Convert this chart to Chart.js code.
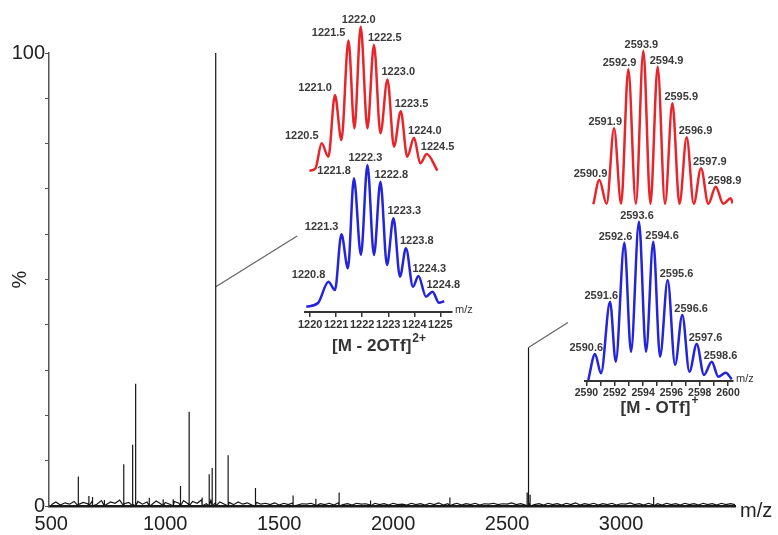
<!DOCTYPE html>
<html>
<head>
<meta charset="utf-8">
<script src="https://cdn.jsdelivr.net/npm/chart.js@4.4.0/dist/chart.umd.min.js"></script>
<style>
    body { margin: 0; background: #fff; }
    #wrap { position: relative; width: 778px; height: 535px; }
    #wrap canvas { position: absolute; top: 0; }
</style>
</head>
<body>
<div id="wrap">
    <canvas id="mainChart" width="778" height="535" style="left:0"></canvas>
    <canvas id="inset1" width="200" height="360" style="left:280px"></canvas>
    <canvas id="inset2" width="218" height="420" style="left:560px"></canvas>
</div>
<script>
// full spectrum: stick peaks (m/z, %)
var peakMz  = [618, 665, 681, 733, 818, 857, 869, 871, 930, 991, 1035, 1067, 1105, 1162, 1193, 1206, 1221, 1222, 1276, 1396, 1561, 1661, 1763, 1901, 2249, 2588, 2594, 2601, 3143];
var peakPct = [6.5, 2.2, 2.0, 1.3, 9.2, 13.5, 22, 27, 1.8, 1.5, 1.5, 4.4, 20.8, 1.9, 7.0, 8.4, 85, 100, 11.2, 4.0, 2.3, 1.6, 3.0, 1.2, 1.9, 3.0, 35, 2.5, 2.0];
// baseline noise, one value every 20 m/z from 500 to 3500
var noiseStart = 500, noiseStep = 20;
var noisePct = [
    0.3, 0.9, 0.2, 0.7, 0.4, 1.0, 0.3, 0.8, 0.5, 1.1,
    0.4, 1.2, 0.3, 0.9, 0.6, 1.3, 0.5, 0.8, 0.3, 1.0,
    0.4, 0.9, 0.3, 1.1, 0.5, 0.8, 0.4, 1.0, 0.6, 1.2,
    0.5, 1.0, 0.6, 1.4, 0.5, 1.2, 0.7, 0.9, 0.4, 0.8,
    0.3, 0.9, 0.4, 0.7, 0.2, 0.8, 0.4, 0.6, 0.3, 0.7,
    0.2, 0.6, 0.3, 0.7, 0.2, 0.5, 0.4, 0.6, 0.2, 0.5,
    0.3, 0.6, 0.2, 0.7, 0.3, 0.5, 0.2, 0.6, 0.4, 0.5,
    0.2, 0.6, 0.3, 0.5, 0.2, 0.6, 0.3, 0.4, 0.2, 0.6,
    0.3, 0.5, 0.2, 0.6, 0.3, 0.7, 0.2, 0.5, 0.3, 0.6,
    0.2, 0.5, 0.3, 0.6, 0.2, 0.5, 0.4, 0.6, 0.3, 0.5,
    0.4, 0.7, 0.3, 0.5, 0.2, 0.6, 0.3, 0.5, 0.2, 0.6,
    0.3, 0.5, 0.2, 0.6, 0.3, 0.7, 0.2, 0.5, 0.3, 0.6,
    0.2, 0.5, 0.3, 0.6, 0.2, 0.5, 0.4, 0.7, 0.3, 0.5,
    0.2, 0.6, 0.3, 0.5, 0.2, 0.6, 0.3, 0.5, 0.2, 0.6,
    0.3, 0.5, 0.2, 0.6, 0.3, 0.5, 0.2, 0.6, 0.3, 0.5,
    0.3
];
var mainTicksX = [500, 1000, 1500, 2000, 2500, 3000];
// lines from the peaks to the insets: [m/z, %, m/z, %]
var zoomLinks = [[1222, 48.4, 1579, 59.6], [2594, 35, 2767, 40.5]];

// inset [M - 2OTf]2+ : red = calculated, blue = found
var red1X  = [1219.97, 1220.2, 1220.44, 1220.7, 1220.95, 1221.2, 1221.47, 1221.7, 1221.94, 1222.2, 1222.45, 1222.7, 1222.97, 1223.22, 1223.48, 1223.73, 1223.99, 1224.23, 1224.48, 1224.89];
var red1Y  = [0, 1.5, 19.0, 9.7, 52.6, 21.3, 90.5, 29.4, 100, 29.4, 87.5, 26.0, 63.4, 16.7, 41.2, 9.7, 22.8, 5.1, 11.6, 0];
var red1Labels = ['1220.5', '1221.0', '1221.5', '1222.0', '1222.5', '1223.0', '1223.5', '1224.0', '1224.5'];
var blue1X = [1219.85, 1220.3, 1220.7, 1220.95, 1221.2, 1221.45, 1221.68, 1221.95, 1222.2, 1222.45, 1222.7, 1222.95, 1223.2, 1223.45, 1223.68, 1223.95, 1224.16, 1224.45, 1224.7, 1224.95, 1225.15];
var blue1Y = [0, 2.6, 17.6, 11.8, 51.1, 27.1, 90.6, 36.5, 100, 36.5, 88.2, 29.4, 62.4, 21.2, 41.2, 14.1, 21.7, 7.1, 10.6, 2.8, 3.8];
var blue1Labels = ['1220.8', '1221.3', '1221.8', '1222.3', '1222.8', '1223.3', '1223.8', '1224.3', '1224.8'];
var inset1Ticks = [1220, 1221, 1222, 1223, 1224, 1225];

// inset [M - OTf]+
var red2X  = [2590.49, 2590.91, 2591.43, 2591.95, 2592.45, 2592.96, 2593.49, 2594.02, 2594.52, 2595.03, 2595.55, 2596.07, 2596.57, 2597.08, 2597.58, 2598.09, 2598.61, 2599.13, 2599.66, 2600.19, 2600.33];
var red2Y  = [0.5, 16.2, 0.8, 49.7, 0.8, 87.9, 0.8, 100, 0.8, 89.6, 0.8, 65.9, 0.8, 43.9, 0.8, 23.8, 0.8, 11.9, 0.8, 4.3, 1.0];
var red2Labels = ['2590.9', '2591.9', '2592.9', '2593.9', '2594.9', '2595.9', '2596.9', '2597.9', '2598.9'];
var blue2X = [2590.13, 2590.61, 2591.03, 2591.67, 2592.07, 2592.68, 2593.15, 2593.71, 2594.21, 2594.72, 2595.2, 2595.74, 2596.26, 2596.77, 2597.27, 2597.79, 2598.3, 2598.85, 2599.31, 2599.84, 2600.26];
var blue2Y = [0, 16.4, 4.2, 49.5, 11.6, 86.7, 17.9, 100, 17.9, 87.4, 14.7, 63.2, 9.5, 41.1, 5.2, 22.7, 3.2, 11.6, 2.1, 4.6, 0.4];
var blue2Labels = ['2590.6', '2591.6', '2592.6', '2593.6', '2594.6', '2595.6', '2596.6', '2597.6', '2598.6'];
var inset2Ticks = [2590, 2591, 2592, 2593, 2594, 2595, 2596, 2597, 2598, 2599, 2600];

var FONT = '"Liberation Sans", Arial, sans-serif';
var RED = '#e8252b', BLUE = '#2424dc';

// ---------- main spectrum ----------
var spectrum = [];
noisePct.forEach(function (v, i) {
    spectrum.push({x: noiseStart + i * noiseStep, y: v});
});
peakMz.forEach(function (m, i) {
    spectrum.push({x: m - 0.01, y: 0}, {x: m, y: peakPct[i]}, {x: m + 0.01, y: 0});
});
spectrum.sort(function (a, b) { return a.x - b.x; });

var mainSets = [{
    data: spectrum,
    borderColor: '#161616',
    borderWidth: 1.2,
    pointRadius: 0,
    tension: 0
}];
zoomLinks.forEach(function (l) {
    mainSets.push({
        data: [{x: l[0], y: l[1]}, {x: l[2], y: l[3]}],
        borderColor: '#666',
        borderWidth: 1.3,
        pointRadius: 0
    });
});

var mzLabel = {
    id: 'mzLabel',
    afterDraw: function (chart) {
        var ctx = chart.ctx, xs = chart.scales.x;
        ctx.save();
        ctx.fillStyle = '#222';
        ctx.font = '20px ' + FONT;
        ctx.textAlign = 'left';
        ctx.textBaseline = 'middle';
        ctx.fillText('m/z', xs.right + 5, xs.top + 5);
        ctx.restore();
    }
};

new Chart(document.getElementById('mainChart'), {
    type: 'line',
    data: { datasets: mainSets },
    options: {
        responsive: false,
        animation: false,
        devicePixelRatio: 1,
        layout: { padding: { top: 53, right: 43, bottom: 0, left: 0 } },
        plugins: { legend: { display: false }, tooltip: { enabled: false } },
        scales: {
            x: {
                type: 'linear', min: 490, max: 3500,
                afterBuildTicks: function (s) { s.ticks = mainTicksX.map(function (v) { return {value: v}; }); },
                afterFit: function (s) { s.height = 29; },
                grid: { display: false, drawTicks: false },
                border: { display: true, color: '#1a1a1a', width: 2.5 },
                ticks: { autoSkip: false, maxRotation: 0, padding: 6, color: '#222',
                    font: { size: 20, family: FONT },
                    callback: function (v) { return String(v); } }
            },
            y: {
                min: 0, max: 100,
                afterFit: function (s) { s.width = 49; },
                grid: { display: true, drawOnChartArea: false, drawTicks: true, tickLength: 4, color: '#555' },
                border: { display: true, color: '#555', width: 1.5 },
                title: { display: true, text: '%', color: '#222', font: { size: 20, family: FONT }, padding: { top: 8, bottom: 0 } },
                ticks: { stepSize: 10, padding: 0, color: '#222', font: { size: 20, family: FONT },
                    callback: function (v) { return (v === 0 || v === 100) ? v : ''; } }
            }
        }
    },
    plugins: [mzLabel]
});

// ---------- insets ----------
var peakTags = {
    id: 'peakTags',
    afterDatasetsDraw: function (chart, args, o) {
        var ctx = chart.ctx, xs = chart.scales.x;
        ctx.save();
        ctx.fillStyle = '#3a3a3a';
        ctx.font = 'bold ' + o.size + 'px ' + FONT;
        ctx.textBaseline = 'middle';
        chart.data.datasets.forEach(function (ds) {
            var ys = chart.scales[ds.yAxisID];
            var tops = [];
            for (var i = 1; i < ds.data.length - 1; i++) {
                if (ds.data[i].y > ds.data[i - 1].y && ds.data[i].y >= ds.data[i + 1].y) tops.push(ds.data[i]);
            }
            var best = 0;
            tops.forEach(function (p, k) { if (p.y > tops[best].y) best = k; });
            ds.tags.forEach(function (txt, k) {
                var p = tops[k];
                var px = xs.getPixelForValue(p.x), py = ys.getPixelForValue(p.y) - o.lift;
                if (k < best) { ctx.textAlign = 'right'; px += o.left; }
                else if (k > best) { ctx.textAlign = 'left'; px += o.right; }
                else { ctx.textAlign = 'center'; px += o.mid; }
                ctx.fillText(txt, px, py);
            });
        });
        // "m/z" at the end of the axis
        ctx.fillStyle = '#333';
        ctx.font = '11px ' + FONT;
        ctx.textAlign = 'left';
        ctx.fillText('m/z', xs.right + 3, xs.top - 2);
        // ion label with superscript charge
        ctx.font = 'bold 17px ' + FONT;
        var w1 = ctx.measureText(o.title).width;
        ctx.font = 'bold 12px ' + FONT;
        var w2 = ctx.measureText(o.sup).width;
        var x0 = (xs.left + xs.right) / 2 - (w1 + w2) / 2, ty = xs.top + o.titleDy;
        ctx.font = 'bold 17px ' + FONT;
        ctx.fillText(o.title, x0, ty);
        ctx.font = 'bold 12px ' + FONT;
        ctx.fillText(o.sup, x0 + w1 + 1, ty - 7);
        ctx.restore();
    }
};

function trace(xs, ys, color, axis, tags) {
    return {
        data: xs.map(function (v, i) { return {x: v, y: ys[i]}; }),
        borderColor: color,
        borderWidth: 2.5,
        pointRadius: 0,
        cubicInterpolationMode: 'monotone',
        yAxisID: axis,
        tags: tags
    };
}

function inset(id, sets, xmin, xmax, ticks, every, axisH, pad, yR, yB, tagOpts) {
    new Chart(document.getElementById(id), {
        type: 'line',
        data: { datasets: sets },
        options: {
            responsive: false,
            animation: false,
            devicePixelRatio: 1,
            layout: { padding: { top: 0, bottom: 0, left: pad[0], right: pad[1] } },
            plugins: { legend: { display: false }, tooltip: { enabled: false }, peakTags: tagOpts },
            scales: {
                x: {
                    type: 'linear', min: xmin, max: xmax,
                    afterBuildTicks: function (s) { s.ticks = ticks.map(function (v) { return {value: v}; }); },
                    afterFit: function (s) { s.height = axisH; },
                    grid: { display: true, drawOnChartArea: false, drawTicks: true, tickLength: 5, color: '#333', lineWidth: 1.5 },
                    border: { display: true, color: '#333', width: 2 },
                    ticks: { autoSkip: false, maxRotation: 0, padding: 1, color: '#333',
                        font: { size: tagOpts.tickSize, weight: 'bold', family: FONT },
                        callback: function (v) { return (v - ticks[0]) % every === 0 ? String(v) : ''; } }
                },
                yR: { display: false, min: yR[0], max: yR[1] },
                yB: { display: false, min: yB[0], max: yB[1] }
            }
        },
        plugins: [peakTags]
    });
}

inset('inset1',
    [trace(red1X, red1Y, RED, 'yR', red1Labels), trace(blue1X, blue1Y, BLUE, 'yB', blue1Labels)],
    1219.8, 1225.45, inset1Ticks, 1, 48, [25, 28], [-98.13, 118.54], [-3.74, 216.44],
    { size: 11, tickSize: 11, lift: 7, left: -3, right: -6, mid: -2, title: '[M - 2OTf]', sup: '2+', titleDy: 34 });

inset('inset2',
    [trace(red2X, red2Y, RED, 'yR', red2Labels), trace(blue2X, blue2Y, BLUE, 'yB', blue2Labels)],
    2589.9, 2600.35, inset2Ticks, 2, 39, [25, 45], [-114.06, 132.86], [-0.63, 240.05],
    { size: 11, tickSize: 10.5, lift: 6, left: 8, right: -8, mid: -2, title: '[M - OTf]', sup: '+', titleDy: 27 });
</script>
</body>
</html>
